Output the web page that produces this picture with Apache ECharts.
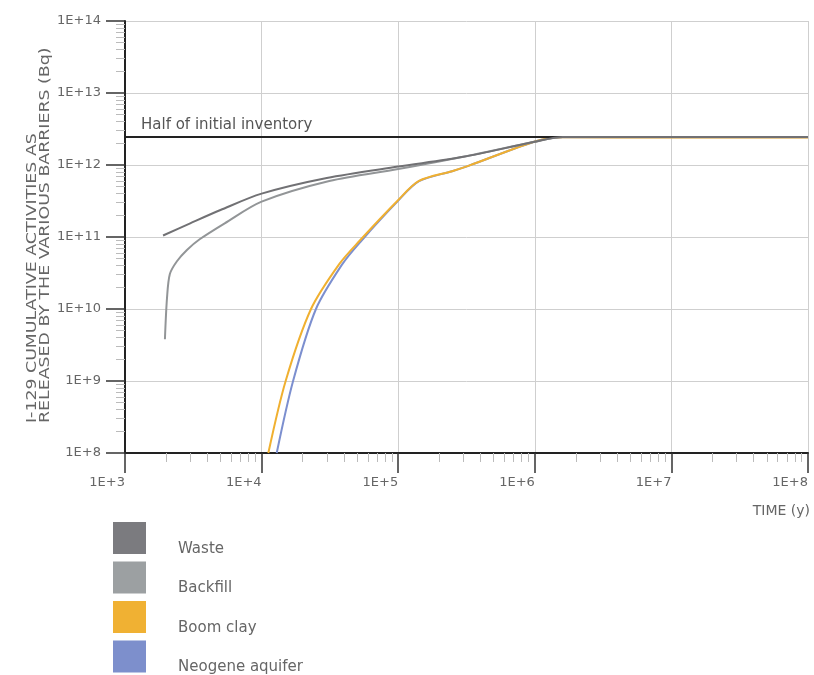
<!DOCTYPE html>
<html>
<head>
<meta charset="utf-8">
<script src="https://cdn.jsdelivr.net/npm/echarts@6/dist/echarts.min.js"></script>
<style>
html,body{margin:0;padding:0;background:#fff;}
#chart{width:814px;height:675px;}
</style>
</head>
<body>
<div id="chart"></div>
<script>
// Data
var seriesNames = ['Waste', 'Backfill', 'Boom clay', 'Neogene aquifer'];
var halfInventory = 2.45e12;
var wasteData = [
  [1900, 1.05e11], [3000, 1.55e11], [5000, 2.37e11], [1e4, 4.0e11], [3e4, 6.6e11],
  [1e5, 9.5e11], [3e5, 1.3e12], [1e6, 2.1e12], [1.6e6, 2.45e12], [1e7, 2.45e12], [1e8, 2.45e12]
];
var backfillData = [
  [1960, 3.8e9], [2030, 1.42e10], [2130, 3.06e10], [2400, 4.6e10], [2840, 6.6e10],
  [3520, 9.3e10], [5370, 1.55e11], [1e4, 3.1e11], [3.13e4, 6e11], [1e5, 8.8e11],
  [3e5, 1.3e12], [1e6, 2.1e12], [1.6e6, 2.45e12], [1e7, 2.45e12], [1e8, 2.45e12]
];
var boomClayData = [
  [1.12e4, 1e8], [1.5e4, 1e9], [2.3e4, 1e10], [3.7e4, 4.2e10], [5.2e4, 8.8e10],
  [9.85e4, 3.16e11], [1.42e5, 6.0e11], [2.48e5, 8.2e11], [3.3e5, 9.8e11],
  [1.02e6, 2.14e12], [1.6e6, 2.42e12], [1e7, 2.4e12], [1e8, 2.4e12]
];
var neogeneData = [
  [1.29e4, 1e8], [1.7e4, 1e9], [2.5e4, 1e10], [3.9e4, 4.2e10], [5.3e4, 8.6e10],
  [9.85e4, 3.1e11], [1.42e5, 5.95e11], [2.48e5, 8.2e11], [3.3e5, 9.8e11],
  [1.02e6, 2.14e12], [1.6e6, 2.43e12], [1e7, 2.42e12], [1e8, 2.42e12]
];
var xRange = [1e3, 1e8];
var yRange = [1e8, 1e14];
var yAxisTitle = 'I-129 CUMULATIVE ACTIVITIES AS\nRELEASED BY THE VARIOUS BARRIERS (Bq)';
var xAxisTitle = 'TIME (y)';
var halfLabel = 'Half of initial inventory';

var lineColors = ['#717174', '#929597', '#f0b030', '#7c8fcf'];
var legendColors = ['#7b7b7f', '#9ca0a2', '#f0b133', '#7d8fcc'];
var FONT = 'DejaVu Sans';

function expLabel(v) {
  return '1E+' + Math.round(Math.log10(v));
}

var chart = echarts.init(document.getElementById('chart'), null, {renderer: 'canvas'});

function mkSeries(name, data, idx, z) {
  return {
    name: name, type: 'line', data: data, smooth: 0.3, showSymbol: false,
    symbol: 'none', z: z,
    lineStyle: {color: lineColors[idx], width: 2},
    itemStyle: {color: legendColors[idx]},
    emphasis: {disabled: true}
  };
}

var option = {
  animation: false,
  backgroundColor: '#fff',
  grid: {left: 125, right: 6, top: 21, bottom: 222, containLabel: false},
  xAxis: {
    type: 'log', logBase: 10, min: xRange[0], max: xRange[1],
    axisLine: {show: true, onZero: false, lineStyle: {color: '#222', width: 2}},
    axisTick: {show: true, inside: false, length: 20, lineStyle: {color: '#333', width: 1.5}},
    minorTick: {show: true, splitNumber: 9, length: 9, lineStyle: {color: '#bbb', width: 1}},
    splitLine: {show: true, lineStyle: {color: '#cfcfcf', width: 1}},
    axisLabel: {
      formatter: expLabel, margin: 23, align: 'right', color: '#666',
      fontFamily: FONT, fontSize: 13, showMinLabel: true, showMaxLabel: true
    }
  },
  yAxis: {
    type: 'log', logBase: 10, min: yRange[0], max: yRange[1],
    axisLine: {show: true, onZero: false, lineStyle: {color: '#222', width: 2}},
    axisTick: {show: true, inside: false, length: 19, lineStyle: {color: '#333', width: 1.5}},
    minorTick: {show: true, splitNumber: 9, length: 9, lineStyle: {color: '#bbb', width: 1}},
    splitLine: {show: true, lineStyle: {color: '#cfcfcf', width: 1}},
    axisLabel: {
      formatter: expLabel, margin: 24, color: '#666',
      fontFamily: FONT, fontSize: 13, verticalAlign: 'middle', padding: [0, 0, 6, 0]
    }
  },
  legend: {
    data: seriesNames, orient: 'vertical', left: 113, top: 522, padding: 0,
    itemWidth: 33, itemHeight: 32, itemGap: 5, icon: 'rect', height: 220,
    selectedMode: false,
    formatter: function (name) { return '{s| }\n{t|' + name + '}'; },
    textStyle: {
      color: '#666', fontFamily: FONT, fontSize: 15,
      padding: [0, 0, 0, 27],
      rich: {
        s: {lineHeight: 22, fontSize: 10},
        t: {lineHeight: 10, fontSize: 15, color: '#666', fontFamily: FONT}
      }
    }
  },
  graphic: [
    {
      type: 'text', x: 39, y: 423, rotation: Math.PI / 2, scaleX: 1.24,
      style: {
        text: yAxisTitle, fill: '#666', font: '14px "DejaVu Sans"',
        textAlign: 'left', textVerticalAlign: 'middle', lineHeight: 13.5
      }
    },
    {
      type: 'text', x: 810, y: 511,
      style: {
        text: xAxisTitle, fill: '#666', font: '14px "DejaVu Sans"',
        textAlign: 'right', textVerticalAlign: 'middle'
      }
    }
  ],
  series: [
    {
      name: 'Half', type: 'line', data: [], z: 1,
      markLine: {
        silent: true, symbol: 'none', animation: false,
        lineStyle: {color: '#222', width: 2, type: 'solid'},
        label: {
          show: true, position: 'insideStartTop', formatter: halfLabel,
          color: '#555', fontFamily: FONT, fontSize: 15, distance: [16, 4]
        },
        data: [{yAxis: halfInventory}]
      }
    },
    mkSeries(seriesNames[3], neogeneData, 3, 2),
    mkSeries(seriesNames[2], boomClayData, 2, 3),
    mkSeries(seriesNames[1], backfillData, 1, 4),
    mkSeries(seriesNames[0], wasteData, 0, 5)
  ]
};
chart.setOption(option);
</script>
</body>
</html>
